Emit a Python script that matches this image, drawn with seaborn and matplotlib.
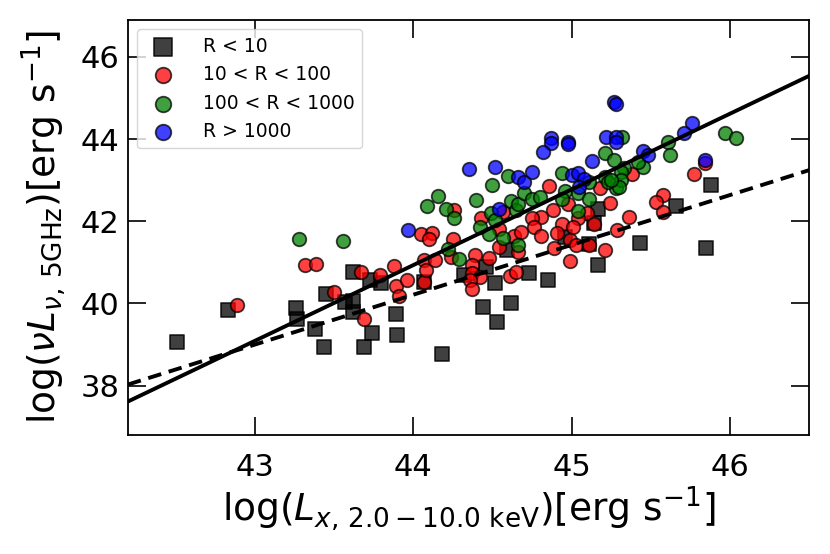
import numpy as np
import pandas as pd
import matplotlib
matplotlib.use("Agg")
import matplotlib.pyplot as plt
import seaborn as sns

# R < 10
lx_r1 = [42.51, 42.83, 43.26, 43.27, 43.38, 43.44, 43.45, 43.62, 43.73, 43.80,
         43.57, 43.62, 43.62, 43.89, 43.74, 43.90, 43.69, 44.18, 44.07, 44.59,
         44.46, 44.32, 44.52, 44.73, 44.44, 44.62, 44.53, 44.85, 45.17, 45.14,
         44.96, 45.11, 45.17, 45.88, 45.66, 45.43, 45.85]
lr_r1 = [39.06, 39.85, 39.90, 39.63, 39.38, 38.93, 40.22, 40.76, 40.58, 40.50,
         40.03, 40.07, 39.79, 39.75, 39.28, 39.22, 38.95, 38.77, 40.52, 41.29,
         40.89, 40.68, 40.50, 40.74, 39.91, 40.01, 39.54, 40.56, 42.31, 41.96,
         41.62, 41.44, 40.93, 42.88, 42.37, 41.47, 41.36]

# 10 < R < 100
lx_r2 = [42.89, 43.32, 43.39, 43.50, 43.67, 43.79, 43.88, 43.89, 43.96, 43.91,
         43.69, 44.05, 44.12, 44.10, 44.07, 44.07, 44.08, 44.14, 44.26, 44.57,
         44.43, 44.54, 44.64, 44.68, 44.66, 44.54, 44.25, 44.24, 44.39, 44.48,
         44.37, 44.37, 44.42, 44.36, 44.37, 44.61, 44.65, 44.86, 45.18, 44.98,
         45.24, 45.10, 45.14, 45.04, 44.88, 44.81, 44.75, 44.76, 44.81, 44.94,
         45.01, 44.91, 44.99, 44.89, 45.03, 45.11, 45.21, 44.99, 45.29, 45.38,
         45.84, 45.77, 45.58, 45.53, 45.58, 45.36]
lr_r2 = [39.97, 40.94, 40.97, 40.28, 40.76, 40.68, 40.90, 40.42, 40.58, 40.18,
         39.63, 41.68, 41.72, 41.58, 40.52, 41.05, 40.82, 41.05, 42.27, 42.23,
         42.07, 41.82, 41.63, 41.74, 41.25, 41.37, 41.58, 41.13, 41.17, 41.11,
         40.93, 40.74, 40.64, 40.56, 40.36, 40.66, 40.76, 42.85, 42.80, 42.41,
         42.45, 42.20, 41.94, 42.07, 42.27, 42.10, 42.07, 41.85, 41.63, 41.93,
         41.85, 41.71, 41.55, 41.36, 41.41, 41.41, 41.31, 41.03, 41.78, 43.15,
         43.42, 43.15, 42.63, 42.47, 42.23, 42.10]

# 100 < R < 1000
lx_r3 = [43.28, 43.56, 44.09, 44.16, 44.60, 44.50, 44.21, 44.26, 44.40, 44.49,
         44.62, 44.65, 44.66, 44.70, 44.42, 44.48, 44.57, 44.66, 44.22, 44.29,
         44.52, 45.32, 45.21, 45.27, 44.94, 45.11, 45.21, 45.28, 45.23, 44.75,
         44.80, 44.96, 44.94, 45.04, 45.11, 45.04, 45.97, 46.04, 45.61, 45.62,
         45.45, 45.42, 45.33, 45.31, 45.31, 45.30, 45.25]
lr_r3 = [41.58, 41.52, 42.37, 42.61, 43.10, 42.88, 42.29, 42.07, 42.51, 42.20,
         42.49, 42.27, 42.41, 42.68, 41.86, 41.70, 41.60, 41.41, 41.33, 41.09,
         42.02, 44.04, 43.67, 43.49, 43.18, 42.96, 43.07, 42.80, 42.96, 42.53,
         42.58, 42.74, 42.55, 42.68, 42.55, 42.25, 44.14, 44.03, 43.93, 43.61,
         43.31, 43.45, 43.29, 43.20, 43.00, 42.84, 43.00]

# R > 1000
lx_r4 = [43.97, 44.35, 44.52, 44.66, 44.70, 44.54, 45.27, 45.28, 44.87, 44.87,
         44.82, 44.98, 44.98, 45.22, 45.28, 45.28, 45.13, 44.75, 45.00, 45.04,
         45.08, 45.05, 45.76, 45.71, 45.45, 45.48, 45.84]
lr_r4 = [41.78, 43.26, 43.32, 43.08, 42.96, 42.29, 44.90, 44.85, 44.03, 43.91,
         43.69, 43.93, 43.88, 44.04, 44.06, 43.93, 43.47, 43.20, 43.12, 43.18,
         43.04, 42.84, 44.38, 44.14, 43.71, 43.61, 43.50]

# fitted relations: slope and value at log Lx = 44
fit_slope = [1.844, 1.214]
fit_at44 = [40.93, 40.21]
fit_style = ["-", (0, (3.5, 2))]

groups = [
    ("R < 10", lx_r1, lr_r1, "s", "black", 115),
    ("10 < R < 100", lx_r2, lr_r2, "o", "red", 95),
    ("100 < R < 1000", lx_r3, lr_r3, "o", "green", 95),
    ("R > 1000", lx_r4, lr_r4, "o", "blue", 95),
]

sns.set_style("ticks")
plt.rcParams["font.family"] = ["DejaVu Sans"]
plt.rcParams["axes.linewidth"] = 1.3
for k in ["text.color", "axes.labelcolor", "xtick.color", "ytick.color", "axes.edgecolor"]:
    plt.rcParams[k] = "black"

fig = plt.figure(figsize=(8.3, 5.54), dpi=100)
ax = fig.add_axes([0.154, 0.215, 0.821, 0.749])

for label, xs, ys, mk, col, size in groups:
    df = pd.DataFrame({"lx": xs, "lr": ys})
    sns.scatterplot(data=df, x="lx", y="lr", marker=mk, color=col, s=size,
                    alpha=0.75, edgecolor="black", linewidth=1.3,
                    label=label, ax=ax)

xlim = (42.2, 46.5)
xx = np.array(xlim)
for m, c, ls in zip(fit_slope, fit_at44, fit_style):
    ax.plot(xx, m * (xx - 44) + c, color="black", ls=ls, lw=2.8)

ax.set_xlim(xlim)
ax.set_ylim(36.8, 46.9)
ax.set_xticks([43, 44, 45, 46])
ax.set_yticks([38, 40, 42, 44, 46])
ax.tick_params(direction="in", length=13, width=1.2, top=True, right=True,
               labelsize=22)
ax.tick_params(axis="x", pad=13)
ax.tick_params(axis="y", pad=6)

ax.set_xlabel(r"log($L_{x,\,\mathrm{2.0-10.0\ keV}}$)[erg s$^{-1}$]", fontsize=27, labelpad=2)
ax.set_ylabel(r"log($\nu L_{\nu,\,\mathrm{5GHz}}$)[erg s$^{-1}$]", fontsize=27, labelpad=8)

ax.legend(loc="upper left", fontsize=13.5, frameon=True, markerscale=1.15,
          handletextpad=1.1)

fig.savefig("out.png", dpi=100)
